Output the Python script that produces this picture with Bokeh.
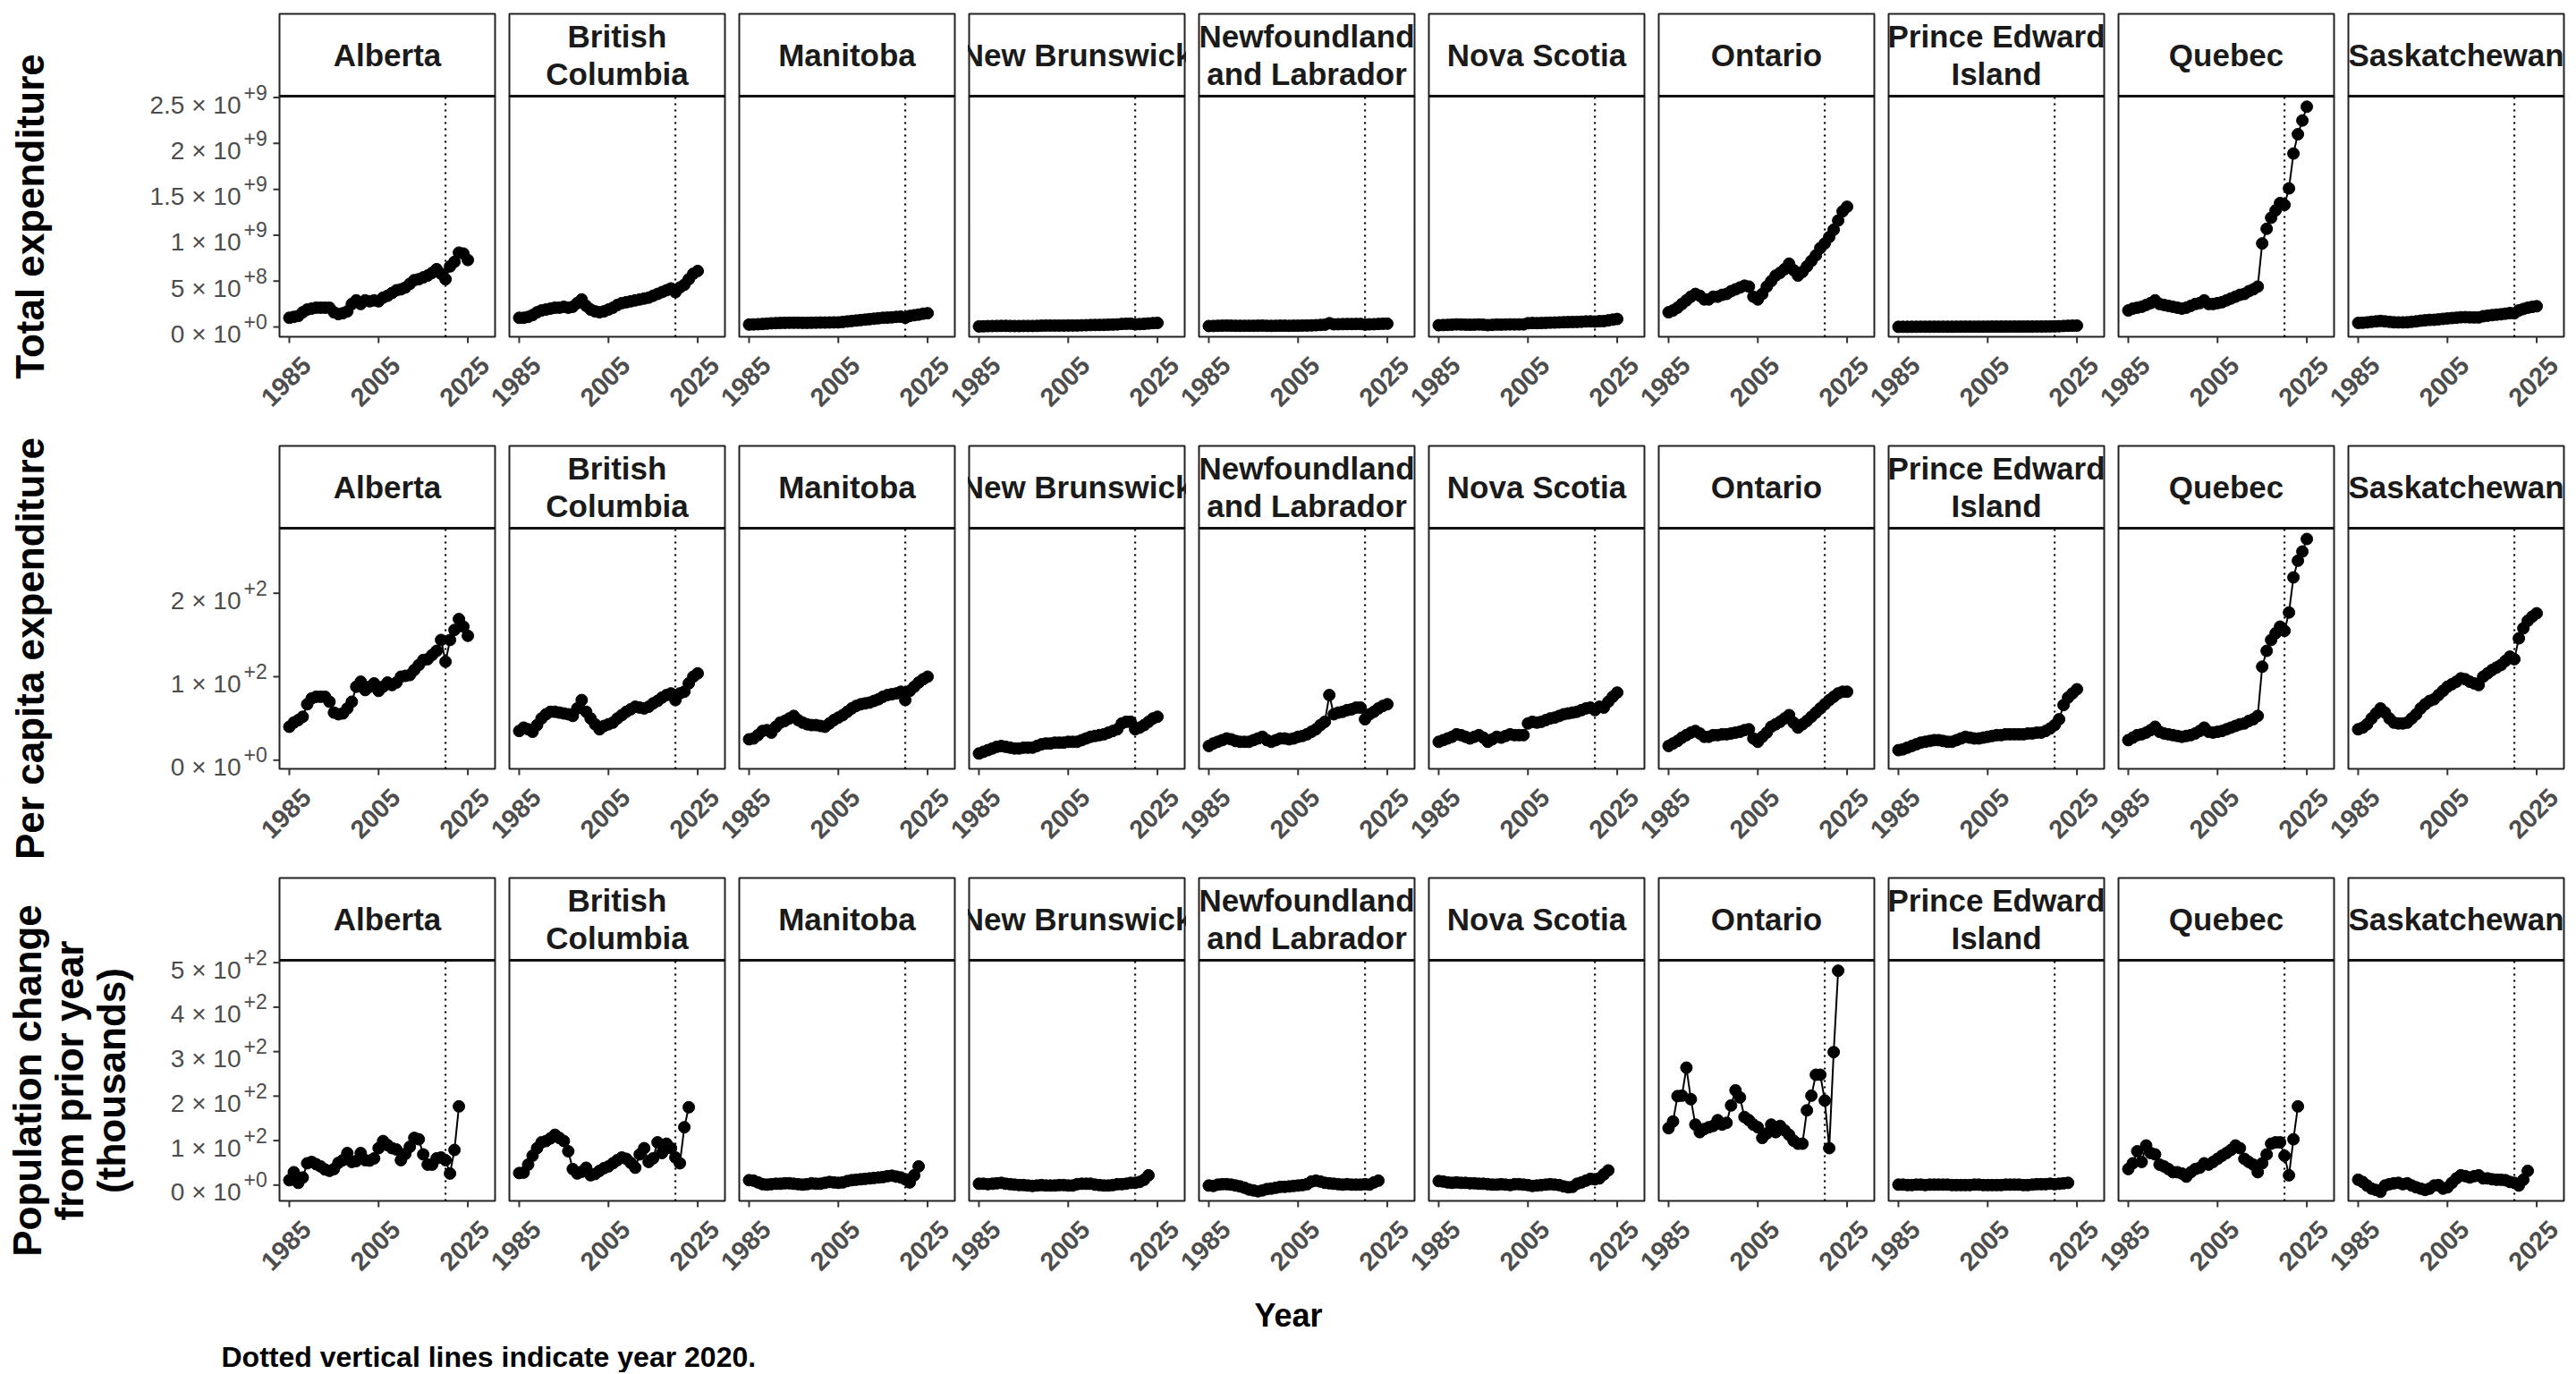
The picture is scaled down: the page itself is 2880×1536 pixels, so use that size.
import math
from bokeh.plotting import figure
from bokeh.models import Range1d, ColumnDataSource
from bokeh.embed import file_html
from bokeh.resources import INLINE
from bokeh.core.properties import value

# ---------------- data ----------------
PROVINCES = ["Alberta", "British Columbia", "Manitoba", "New Brunswick",
             "Newfoundland and Labrador", "Nova Scotia", "Ontario",
             "Prince Edward Island", "Quebec", "Saskatchewan"]
STRIP_LABELS = ["Alberta", "British\nColumbia", "Manitoba", "New Brunswick",
                "Newfoundland\nand Labrador", "Nova Scotia", "Ontario",
                "Prince Edward\nIsland", "Quebec", "Saskatchewan"]

YEARS_EXP = list(range(1985, 2026))
YEARS_POP = list(range(1985, 2024))
REF_YEAR = 2020
X_TICKS = [1985, 2005, 2025]
X_TICK_LABELS = ["1985", "2005", "2025"]

# Total expenditure, in units of 1e8
TOTAL_UNIT = 1e8
TOTAL_AB = [1.0, 1.1, 1.2, 1.6, 1.9, 2.0, 2.1, 2.1, 2.1, 2.1, 1.6, 1.4, 1.5, 1.7, 2.5, 2.9, 2.5, 2.9, 2.8, 2.9,
            2.8, 3.2, 3.4, 3.7, 4.0, 4.1, 4.3, 4.7, 5.1, 5.2, 5.4, 5.6, 5.9, 6.3, 5.8, 5.2, 6.6, 7.1, 8.1, 8.0, 7.3]
TOTAL_BC = [1.0, 1.0, 1.1, 1.3, 1.6, 1.8, 1.9, 2.0, 2.1, 2.1, 2.2, 2.1, 2.2, 2.6, 3.0, 2.3, 1.9, 1.7, 1.6, 1.7,
            1.9, 2.1, 2.4, 2.6, 2.7, 2.8, 2.9, 3.0, 3.1, 3.2, 3.4, 3.6, 3.8, 4.0, 4.2, 3.8, 4.3, 4.6, 5.2, 5.8, 6.1]
TOTAL_MB = [0.26, 0.28, 0.30, 0.33, 0.36, 0.40, 0.42, 0.44, 0.45, 0.46, 0.46, 0.46, 0.45, 0.45, 0.46, 0.47, 0.48,
            0.48, 0.49, 0.50, 0.50, 0.55, 0.60, 0.65, 0.70, 0.75, 0.80, 0.85, 0.90, 0.95, 1.00, 1.02, 1.05, 1.10,
            1.12, 1.00, 1.20, 1.28, 1.35, 1.45, 1.50]
TOTAL_NB = [0.06, 0.07, 0.09, 0.10, 0.11, 0.12, 0.12, 0.11, 0.10, 0.10, 0.11, 0.11, 0.11, 0.12, 0.14, 0.15, 0.15,
            0.15, 0.15, 0.15, 0.16, 0.16, 0.16, 0.18, 0.19, 0.21, 0.22, 0.22, 0.23, 0.25, 0.26, 0.28, 0.33, 0.35,
            0.36, 0.29, 0.31, 0.34, 0.38, 0.42, 0.44]
TOTAL_NL = [0.10, 0.11, 0.13, 0.14, 0.15, 0.14, 0.13, 0.13, 0.13, 0.13, 0.13, 0.14, 0.15, 0.13, 0.12, 0.13, 0.14,
            0.14, 0.13, 0.14, 0.14, 0.15, 0.16, 0.17, 0.19, 0.22, 0.25, 0.41, 0.29, 0.30, 0.31, 0.32, 0.32, 0.33,
            0.33, 0.26, 0.29, 0.30, 0.33, 0.35, 0.36]
TOTAL_NS = [0.19, 0.21, 0.23, 0.25, 0.28, 0.27, 0.25, 0.24, 0.25, 0.27, 0.25, 0.20, 0.23, 0.26, 0.25, 0.27, 0.28,
            0.28, 0.28, 0.28, 0.41, 0.43, 0.42, 0.43, 0.45, 0.47, 0.48, 0.50, 0.52, 0.53, 0.54, 0.55, 0.57, 0.60,
            0.61, 0.59, 0.63, 0.64, 0.72, 0.80, 0.87]
TOTAL_ON = [1.6, 1.8, 2.1, 2.5, 2.9, 3.3, 3.6, 3.4, 3.0, 3.0, 3.3, 3.3, 3.5, 3.6, 3.9, 4.1, 4.3, 4.5, 4.4, 3.3,
            3.0, 3.6, 4.4, 5.0, 5.6, 5.9, 6.3, 6.9, 6.2, 5.6, 6.0, 6.6, 7.2, 7.8, 8.6, 9.1, 9.8, 10.6, 11.6, 12.6, 13.1]
TOTAL_PE = [0.015, 0.017, 0.019, 0.022, 0.025, 0.027, 0.029, 0.030, 0.031, 0.032, 0.031, 0.030, 0.030, 0.033,
            0.035, 0.038, 0.037, 0.036, 0.036, 0.037, 0.038, 0.040, 0.041, 0.041, 0.043, 0.044, 0.045, 0.045,
            0.045, 0.047, 0.047, 0.049, 0.050, 0.054, 0.060, 0.067, 0.080, 0.11, 0.13, 0.14, 0.15]
TOTAL_QC = [1.8, 2.0, 2.1, 2.2, 2.4, 2.6, 2.9, 2.5, 2.4, 2.3, 2.2, 2.1, 2.0, 2.1, 2.3, 2.5, 2.6, 2.9, 2.5, 2.5,
            2.6, 2.7, 2.9, 3.1, 3.3, 3.5, 3.6, 3.9, 4.1, 4.4, 9.1, 10.7, 11.9, 12.7, 13.5, 13.3, 15.1, 18.9, 21.0,
            22.5, 24.0]
TOTAL_SK = [0.44, 0.46, 0.50, 0.56, 0.61, 0.66, 0.61, 0.56, 0.51, 0.50, 0.50, 0.51, 0.56, 0.61, 0.68, 0.73, 0.77,
            0.78, 0.83, 0.88, 0.93, 0.97, 1.01, 1.06, 1.07, 1.05, 1.04, 1.04, 1.17, 1.23, 1.29, 1.34, 1.38, 1.45,
            1.52, 1.49, 1.80, 1.96, 2.10, 2.19, 2.26]

# Per capita expenditure
PC_AB = [40, 45, 48, 52, 67, 74, 76, 76, 76, 70, 57, 55, 56, 62, 70, 88, 94, 84, 88, 92,
         83, 88, 93, 90, 93, 100, 101, 102, 108, 114, 120, 121, 126, 131, 144, 118, 144, 156, 169, 160, 149]
PC_BC = [35, 39, 37, 34, 42, 50, 55, 58, 58, 57, 56, 55, 53, 62, 72, 58, 50, 43, 37, 41,
         43, 45, 50, 54, 58, 61, 64, 63, 62, 64, 68, 71, 75, 78, 80, 72, 80, 82, 92, 100, 104]
PC_MB = [25, 26, 30, 35, 36, 33, 40, 45, 47, 50, 53, 48, 45, 43, 42, 42, 41, 40, 44, 48,
         51, 54, 58, 62, 65, 67, 68, 69, 71, 73, 76, 78, 79, 80, 82, 72, 83, 88, 93, 97, 100]
PC_NB = [8, 10, 12, 14, 16, 17, 16, 15, 14, 14, 15, 15, 15, 17, 19, 20, 20, 21, 21, 21,
         22, 22, 22, 24, 26, 28, 29, 30, 31, 33, 35, 37, 44, 46, 46, 37, 39, 42, 46, 50, 52]
PC_NL = [17, 20, 22, 24, 26, 25, 23, 22, 22, 22, 24, 26, 28, 24, 22, 24, 26, 26, 25, 26,
         28, 29, 31, 34, 37, 42, 46, 78, 55, 57, 58, 60, 61, 63, 63, 49, 55, 58, 62, 65, 67]
PC_NS = [22, 24, 26, 28, 31, 30, 28, 26, 28, 30, 27, 22, 25, 28, 27, 29, 31, 30, 30, 30,
         44, 46, 45, 46, 48, 50, 51, 53, 55, 56, 57, 58, 60, 62, 63, 60, 64, 63, 70, 76, 81]
PC_ON = [17, 20, 23, 27, 30, 33, 35, 32, 28, 28, 30, 30, 31, 31, 32, 33, 34, 36, 37, 26,
         22, 28, 33, 40, 43, 46, 50, 54, 45, 39, 43, 47, 52, 57, 62, 67, 72, 76, 80, 82, 82]
PC_PE = [12, 13, 15, 17, 19, 21, 22, 23, 24, 24, 23, 22, 22, 24, 26, 28, 27, 26, 26, 27,
         28, 29, 30, 30, 31, 31, 31, 31, 31, 32, 32, 33, 33, 35, 38, 42, 49, 66, 75, 80, 85]
PC_QC = [24, 27, 30, 31, 33, 36, 40, 34, 32, 31, 30, 29, 28, 29, 30, 32, 35, 39, 34, 33,
         34, 35, 37, 39, 41, 43, 44, 47, 49, 53, 112, 131, 144, 152, 160, 155, 177, 219, 239, 250, 265]
PC_SK = [37, 39, 43, 50, 56, 62, 57, 50, 45, 44, 44, 45, 50, 55, 62, 67, 71, 73, 78, 83,
         88, 91, 94, 98, 97, 94, 92, 90, 100, 104, 108, 111, 114, 119, 124, 121, 146, 158, 167, 172, 176]

# Population change from prior year (thousands)
POP_AB = [11, 29, 5, 17, 49, 52, 47, 42, 35, 32, 36, 50, 56, 72, 52, 54, 72, 56, 55, 60,
          83, 99, 90, 83, 80, 56, 70, 86, 106, 103, 69, 46, 46, 60, 62, 56, 26, 79, 177]
POP_BC = [27, 28, 46, 66, 83, 96, 99, 105, 113, 106, 99, 76, 36, 26, 30, 39, 22, 25, 32, 38,
          42, 49, 56, 62, 59, 50, 39, 69, 83, 52, 60, 96, 72, 93, 83, 62, 49, 130, 175]
POP_MB = [11, 10, 6, 2, 1, 2, 3, 3, 4, 4, 3, 2, 1, 2, 4, 3, 3, 5, 7, 6,
          5, 6, 9, 11, 12, 13, 14, 15, 16, 17, 18, 20, 21, 19, 17, 13, 6, 22, 42]
POP_NB = [3, 3, 2, 3, 4, 5, 3, 2, 1, 0, 0, -1, -2, -1, 0, -1, -1, -1, 0, 0,
          -1, -1, 2, 3, 3, 3, 1, 0, -1, -1, 0, 2, 2, 3, 5, 5, 7, 12, 22]
POP_NL = [-1, -2, 1, 2, 2, 1, -1, -3, -6, -10, -12, -14, -12, -9, -8, -6, -4, -4, -3, -2,
          -1, 0, 2, 8, 10, 8, 5, 4, 3, 2, 1, 2, 1, 1, 1, 2, 1, 6, 10]
POP_NS = [9, 8, 6, 5, 6, 5, 5, 4, 4, 3, 3, 2, 1, 1, 2, 1, 0, 2, 2, 1,
          0, -2, -1, 0, 1, 2, 1, 0, -3, -5, -4, 3, 6, 10, 14, 13, 15, 24, 33]
POP_ON = [128, 143, 200, 201, 264, 193, 136, 119, 126, 130, 133, 146, 136, 140, 179, 213, 197, 153, 146, 136,
          130, 106, 116, 136, 119, 133, 123, 113, 100, 93, 93, 168, 201, 248, 248, 190, 83, 299, 482]
POP_PE = [1, 1, 0, 0, 1, 1, 0, 1, 1, 1, 1, 1, 0, 0, 0, 0, 0, 1, 1, 0,
          0, 0, 0, 0, 1, 1, 1, 1, 0, 0, 1, 2, 2, 2, 3, 2, 3, 4, 5]
POP_QC = [36, 49, 76, 52, 89, 72, 69, 46, 42, 36, 29, 29, 26, 19, 29, 36, 39, 49, 46, 52,
          59, 66, 72, 79, 89, 83, 59, 52, 46, 29, 49, 69, 93, 96, 96, 66, 22, 103, 177]
POP_SK = [12, 7, -1, -8, -11, -15, -1, 2, 4, 5, 2, 4, -1, -5, -8, -11, -8, -1, 0, -8,
          -5, 5, 15, 22, 20, 17, 20, 22, 15, 15, 13, 12, 12, 11, 7, 5, -1, 12, 32]

# y tick labels: mantissa part and exponent part (drawn as a superscript)
Y_TICKS_TOTAL = [0, 5e8, 1e9, 1.5e9, 2e9, 2.5e9]
Y_BASE_TOTAL = ["0 \u00d7 10", "5 \u00d7 10", "1 \u00d7 10", "1.5 \u00d7 10", "2 \u00d7 10", "2.5 \u00d7 10"]
Y_EXP_TOTAL = ["+0", "+8", "+9", "+9", "+9", "+9"]
Y_TICKS_PC = [0, 100, 200]
Y_BASE_PC = ["0 \u00d7 10", "1 \u00d7 10", "2 \u00d7 10"]
Y_EXP_PC = ["+0", "+2", "+2"]
Y_TICKS_POP = [0, 100, 200, 300, 400, 500]
Y_BASE_POP = ["0 \u00d7 10", "1 \u00d7 10", "2 \u00d7 10", "3 \u00d7 10", "4 \u00d7 10", "5 \u00d7 10"]
Y_EXP_POP = ["+0", "+2", "+2", "+2", "+2", "+2"]

ROW_TITLE_TOTAL = ["Total expenditure"]
ROW_TITLE_PC = ["Per capita expenditure"]
ROW_TITLE_POP = ["Population change", "from prior year", "(thousands)"]
X_TITLE = "Year"
CAPTION = "Dotted vertical lines indicate year 2020."

# ---------------- layout (pixels) ----------------
FONT = "Liberation Sans"
FIG_W, FIG_H = 2878, 1534
PANEL_W, GAP, STRIP_H, PANEL_H = 241, 16, 92, 269
P1L = 312                       # left edge of first panel
STRIP_TOPS = [15, 498, 981]     # top of the strip of each row
XLO, XHI = 1982.8, 2031.1       # panel x extent in years
KX = PANEL_W / (XHI - XLO)
STEP = (PANEL_W + GAP) / KX
OFFS = [i * STEP for i in range(10)]
TICK_LEN = 7
BORDER = "#222222"
TICK_COLOR = "#333333"
LABEL_COLOR = "#4D4D4D"


def px_x(px):
    return XLO + (px - P1L) / KX


class RowGeom:
    def __init__(self, ylo, yhi, strip_top):
        self.ylo, self.yhi = ylo, yhi
        self.st = strip_top
        self.pt = strip_top + STRIP_H
        self.pb = self.pt + PANEL_H
        self.ky = PANEL_H / (yhi - ylo)

    def y(self, py):
        return self.yhi - (py - self.pt) / self.ky

    def rng(self):
        return Range1d(self.y(FIG_H), self.y(0))


G_TOTAL = RowGeom(-0.107e9, 2.515e9, STRIP_TOPS[0])
G_PC = RowGeom(-10.4, 277.9, STRIP_TOPS[1])
G_POP = RowGeom(-35.6, 505.4, STRIP_TOPS[2])

p = figure(width=FIG_W, height=FIG_H, x_range=Range1d(px_x(0), px_x(FIG_W)),
           y_range=G_TOTAL.rng(), min_border=0, x_axis_location=None, y_axis_location=None,
           output_backend="svg", toolbar_location=None, tools="")
p.extra_y_ranges = {"pc": G_PC.rng(), "pop": G_POP.rng()}
p.outline_line_color = None
p.grid.visible = False
p.background_fill_color = "white"
p.border_fill_color = "white"


def draw_row(g, rname, series, years, yticks, ybase, yexp, title_lines, title_xs):
    n = len(OFFS)
    kw = dict(y_range_name=rname)
    lefts = [XLO + o for o in OFFS]
    rights = [XHI + o for o in OFFS]
    ytop = g.y(g.st)
    # panel boxes
    p.quad(left=lefts, right=rights, bottom=[g.ylo] * n, top=[g.yhi] * n,
           fill_color="white", line_color=BORDER, line_width=2, **kw)
    # strip texts
    p.text(x=[(XLO + XHI) / 2 + o for o in OFFS], y=[g.y(g.st + STRIP_H / 2)] * n,
           text=STRIP_LABELS, text_font=value(FONT), text_font_style="bold",
           text_font_size="35px", text_align="center", text_baseline="middle",
           text_color="#1A1A1A", text_line_height=1.1, **kw)
    # clip strip text at the strip edges (white gaps)
    p.quad(left=[XHI + o + 1.5 / KX for o in OFFS[:-1]], right=[XLO + o + STEP - 1.5 / KX for o in OFFS[:-1]],
           bottom=[g.yhi] * (n - 1), top=[g.y(g.st - 3)] * (n - 1),
           fill_color="white", line_color=None, **kw)
    p.quad(left=[XHI + OFFS[-1] + 1.5 / KX], right=[px_x(FIG_W)], bottom=[g.yhi], top=[g.y(g.st - 3)],
           fill_color="white", line_color=None, **kw)
    # strip borders
    p.quad(left=lefts, right=rights, bottom=[g.yhi] * n, top=[ytop] * n,
           fill_color=None, line_color=BORDER, line_width=2, **kw)
    p.segment(x0=lefts, x1=rights, y0=[g.yhi] * n, y1=[g.yhi] * n,
              line_color="#111111", line_width=3, **kw)
    # dotted reference lines
    p.segment(x0=[REF_YEAR + o for o in OFFS], x1=[REF_YEAR + o for o in OFFS],
              y0=[g.ylo] * n, y1=[g.yhi] * n,
              line_color="black", line_width=2.2, line_dash="2 5", **kw)
    # series
    for o, vals in zip(OFFS, series):
        src = ColumnDataSource(dict(x=[yr + o for yr in years], y=vals))
        p.line("x", "y", source=src, line_color="black", line_width=2, **kw)
        p.scatter("x", "y", source=src, size=13, fill_color="black", line_color="black", **kw)
    # x ticks and labels
    xt = [t + o for o in OFFS for t in X_TICKS]
    xl = [lab for o in OFFS for lab in X_TICK_LABELS]
    yend = g.y(g.pb + TICK_LEN)
    p.segment(x0=xt, x1=xt, y0=[g.ylo] * len(xt), y1=[yend] * len(xt),
              line_color=TICK_COLOR, line_width=2, **kw)
    p.text(x=xt, y=[yend] * len(xt), text=xl, angle=math.pi / 4, x_offset=19, y_offset=20,
           text_align="right", text_baseline="middle", text_font=value(FONT),
           text_font_style="bold", text_font_size="29px", text_color=LABEL_COLOR, **kw)
    # y ticks and labels (first column only)
    m = len(yticks)
    p.segment(x0=[px_x(P1L - TICK_LEN)] * m, x1=[XLO] * m, y0=yticks, y1=yticks,
              line_color=TICK_COLOR, line_width=2, **kw)
    p.text(x=[px_x(269)] * m, y=yticks, text=ybase, y_offset=8,
           text_align="right", text_baseline="middle", text_font=value(FONT),
           text_font_size="28px", text_color=LABEL_COLOR, **kw)
    p.text(x=[px_x(272)] * m, y=yticks, text=yexp, y_offset=-6,
           text_align="left", text_baseline="middle", text_font=value(FONT),
           text_font_size="23px", text_color=LABEL_COLOR, **kw)
    # row title
    yc = g.y((g.pt + g.pb) / 2)
    p.text(x=[px_x(tx) for tx in title_xs], y=[yc] * len(title_xs), text=title_lines,
           angle=math.pi / 2, text_align="center", text_baseline="middle", text_font=value(FONT),
           text_font_style="bold", text_font_size="44px", text_color="black", **kw)


draw_row(G_TOTAL, "default",
         [[v * TOTAL_UNIT for v in s] for s in
          [TOTAL_AB, TOTAL_BC, TOTAL_MB, TOTAL_NB, TOTAL_NL, TOTAL_NS, TOTAL_ON, TOTAL_PE, TOTAL_QC, TOTAL_SK]],
         YEARS_EXP, Y_TICKS_TOTAL, Y_BASE_TOTAL, Y_EXP_TOTAL, ROW_TITLE_TOTAL, [33])
draw_row(G_PC, "pc",
         [PC_AB, PC_BC, PC_MB, PC_NB, PC_NL, PC_NS, PC_ON, PC_PE, PC_QC, PC_SK],
         YEARS_EXP, Y_TICKS_PC, Y_BASE_PC, Y_EXP_PC, ROW_TITLE_PC, [33])
draw_row(G_POP, "pop",
         [POP_AB, POP_BC, POP_MB, POP_NB, POP_NL, POP_NS, POP_ON, POP_PE, POP_QC, POP_SK],
         YEARS_POP, Y_TICKS_POP, Y_BASE_POP, Y_EXP_POP, ROW_TITLE_POP, [30, 77, 124])

# x title and caption
p.text(x=[px_x(1440)], y=[G_POP.y(1470)], text=[X_TITLE], y_range_name="pop",
       text_align="center", text_baseline="middle", text_font=value(FONT),
       text_font_style="bold", text_font_size="36px", text_color="black")
p.text(x=[px_x(247)], y=[G_POP.y(1516)], text=[CAPTION], y_range_name="pop",
       text_align="left", text_baseline="middle", text_font=value(FONT),
       text_font_style="bold", text_font_size="32px", text_color="black")

open("out.html", "w").write(file_html(p, INLINE))
